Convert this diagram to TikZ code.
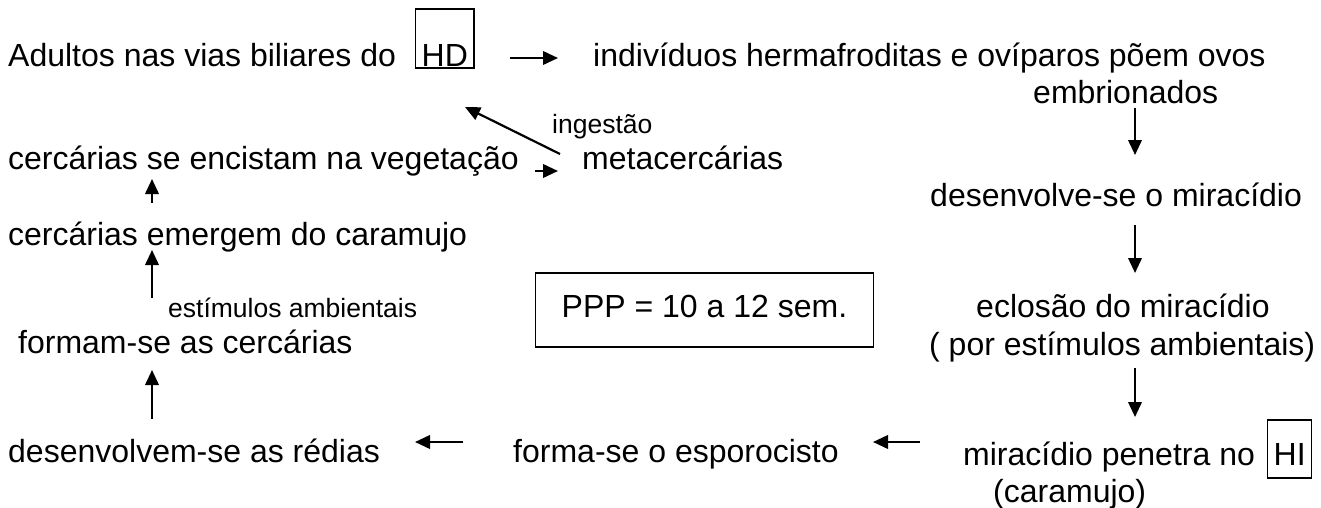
\documentclass[tikz,border=0pt]{standalone}
\usepackage{fontspec}
\setmainfont{Liberation Sans}
\usetikzlibrary{arrows.meta}
\begin{document}
\begin{tikzpicture}[x=1pt,y=-1pt,
  txt/.style={anchor=base west, inner sep=0pt, font=\fontsize{32}{38}\selectfont},
  smalltxt/.style={anchor=base west, inner sep=0pt, font=\fontsize{26.5}{30}\selectfont},
  hostbox/.style={draw, line width=1.4pt, inner xsep=6pt, inner ysep=0pt},
  arr/.style={line width=2.2pt, -{Triangle[length=15pt,width=13.5pt]}}]
\useasboundingbox (0,0) rectangle (1321,508);
% row 1
\node[txt] (adultos) at (8,67) {Adultos nas vias biliares do};
\node[txt, hostbox, text height=58pt, text depth=1pt] (hd) at (415,67) {HD};
\node[txt] (indiv) at (593,67) {indivíduos hermafroditas e ovíparos põem ovos};
\node[txt] (emb) at (1033,104) {embrionados};
% middle-left
\node[smalltxt] (ingest) at (552,133) {ingestão};
\node[txt] (encist) at (8,169) {cercárias se encistam na vegetação};
\node[txt] (meta) at (582,169) {metacercárias};
\node[txt] (desmir) at (930,206) {desenvolve-se o miracídio};
\node[txt] (emerg) at (8,245) {cercárias emergem do caramujo};
\node[smalltxt] (estim) at (168,317) {estímulos ambientais};
\node[txt, draw, line width=1.4pt, inner xsep=26pt, inner ysep=0pt, text height=44pt, text depth=30pt] (ppp) at (535,317) {PPP = 10 a 12 sem.};
\node[txt] (eclos) at (976,317) {eclosão do miracídio};
\node[txt] (formam) at (18,353) {formam-se as cercárias};
\node[txt] (porest) at (929,355) {( por estímulos ambientais)};
% bottom
\node[txt] (redias) at (8,462) {desenvolvem-se as rédias};
\node[txt] (esporo) at (513,462) {forma-se o esporocisto};
\node[txt] (penetra) at (963,465) {miracídio penetra no};
\node[txt, hostbox, text height=45pt, text depth=13pt] (hi) at (1267,465) {HI};
\node[txt] (caram) at (993,502) {(caramujo)};
% connector end points
\coordinate (a1s) at (510,58);   \coordinate (a1e) at (558,58);
\coordinate (dgs) at (560,154);  \coordinate (dge) at (465,107);
\coordinate (sms) at (535,171);  \coordinate (sme) at (558,171);
\coordinate (r1s) at (1135,108); \coordinate (r1e) at (1135,155);
\coordinate (r2s) at (1135,225); \coordinate (r2e) at (1135,273);
\coordinate (r3s) at (1135,368); \coordinate (r3e) at (1135,417);
\coordinate (b1s) at (920,442);  \coordinate (b1e) at (873,442);
\coordinate (b2s) at (463,442);  \coordinate (b2e) at (415,442);
\coordinate (l3s) at (152,419);  \coordinate (l3e) at (152,370);
\coordinate (l2s) at (152,298);  \coordinate (l2e) at (152,250);
\coordinate (l1s) at (152,203);  \coordinate (l1e) at (152,179);
% connectors
\draw[arr] (a1s) -- (a1e);
\draw[arr] (r1s) -- (r1e);
\draw[arr] (r2s) -- (r2e);
\draw[arr] (r3s) -- (r3e);
\draw[arr] (b1s) -- (b1e);
\draw[arr] (b2s) -- (b2e);
\draw[arr] (l3s) -- (l3e);
\draw[arr] (l2s) -- (l2e);
\draw[arr] (l1s) -- (l1e);
\draw[arr] (sms) -- (sme);
\draw[arr] (dgs) -- (dge);
\end{tikzpicture}
\end{document}
